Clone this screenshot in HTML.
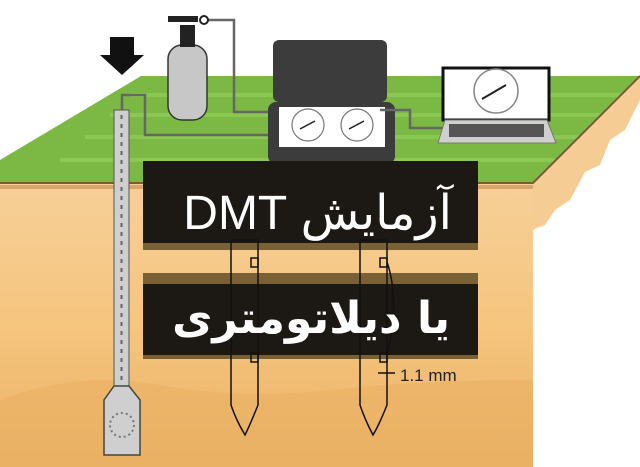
<!DOCTYPE html>
<html><head><meta charset="utf-8"><style>
html,body{margin:0;padding:0;background:#fff;}
svg{display:block}
</style></head><body>
<svg width="640" height="467" viewBox="0 0 640 467" xmlns="http://www.w3.org/2000/svg">
<defs>
<linearGradient id="soil" x1="0" y1="0" x2="0" y2="1">
<stop offset="0" stop-color="#f6cf98"/><stop offset="0.5" stop-color="#f6c57e"/><stop offset="1" stop-color="#eab066"/>
</linearGradient>
</defs>
<rect width="640" height="467" fill="#fff"/>
<rect x="0" y="183" width="533" height="284" fill="url(#soil)"/>
<path d="M0 400 Q80 370 160 385 T330 390 T533 380 L533 467 L0 467Z" fill="#e9b063" opacity="0.6"/>
<path d="M533 183 L640 76 L640 100 L625 130 L610 140 L600 165 L585 172 L570 200 L555 210 L545 225 L537 228 L533 230Z" fill="#f5cc93"/>
<path d="M141 76 L640 76 L533 183 L0 183 L0 160Z" fill="#7cb944"/>
<g stroke="#8fcb55" stroke-width="4" opacity="0.8">
<line x1="130" y1="95" x2="620" y2="95"/><line x1="110" y1="115" x2="600" y2="115"/><line x1="85" y1="137" x2="580" y2="137"/><line x1="60" y1="160" x2="555" y2="160"/>
</g>
<path d="M0 183 L533 183 L640 76" fill="none" stroke="#7a5a3a" stroke-width="2"/>
<rect x="0" y="185" width="533" height="4" fill="#d8a56a"/>
<path d="M110 37 L134 37 L134 55 L144 55 L122 75 L100 55 L110 55Z" fill="#111"/>
<path d="M122 110 L122 95 L145 95 L145 135 L272 135" fill="none" stroke="#666" stroke-width="2.5"/>
<path d="M205 20 L234 20 L234 112 L280 112" fill="none" stroke="#666" stroke-width="2.5"/>
<rect x="168" y="45" width="39" height="75" rx="14" fill="#c7c7c7" stroke="#333" stroke-width="1.5"/>
<rect x="180" y="25" width="15" height="22" fill="#222"/>
<rect x="168" y="16" width="30" height="6" fill="#222"/>
<circle cx="204" cy="20" r="4" fill="#fff" stroke="#222" stroke-width="2"/>
<rect x="273" y="40" width="114" height="62" rx="6" fill="#3c3c3c"/>
<rect x="268" y="102" width="127" height="62" rx="8" fill="#3c3c3c"/>
<rect x="279" y="107" width="106" height="40" fill="#fff"/>
<g fill="#fff" stroke="#777" stroke-width="1.2">
<circle cx="308" cy="125" r="16"/><circle cx="357" cy="125" r="16"/>
</g>
<line x1="300" y1="129" x2="315" y2="121" stroke="#222" stroke-width="1.5"/>
<line x1="349" y1="129" x2="364" y2="121" stroke="#222" stroke-width="1.5"/>
<path d="M380 110 L410 110 L410 128 L443 128" fill="none" stroke="#666" stroke-width="2.5"/>
<rect x="443" y="68" width="106" height="52" fill="#fff" stroke="#111" stroke-width="3"/>
<circle cx="496" cy="91" r="22" fill="#fff" stroke="#888" stroke-width="1.5"/>
<line x1="482" y1="99" x2="506" y2="85" stroke="#222" stroke-width="2"/>
<path d="M445 120 L547 120 L556 143 L438 143Z" fill="#cfcfcf" stroke="#777"/>
<rect x="449" y="124" width="95" height="13" fill="#555"/>
<rect x="114" y="110" width="15" height="278" fill="#cfcfcf" stroke="#555" stroke-width="1"/>
<line x1="121.5" y1="115" x2="121.5" y2="385" stroke="#666" stroke-width="2" stroke-dasharray="4 5"/>
<path d="M114 386 L129 386 L140 400 L140 455 L104 455 L104 400Z" fill="#cfcfcf" stroke="#444" stroke-width="1.5"/>
<circle cx="122" cy="425" r="12" fill="none" stroke="#777" stroke-width="2" stroke-dasharray="2 3"/>
<rect x="143" y="161" width="335" height="82" fill="#1c1915"/>
<rect x="143" y="243" width="335" height="7" fill="#7a6035"/>
<rect x="143" y="273" width="335" height="11" fill="#7a6035"/>
<rect x="143" y="284" width="335" height="71" fill="#1c1915"/>
<rect x="143" y="355" width="335" height="4" fill="#7a6035"/>
<g fill="none" stroke="#111" stroke-width="1.5">
<path d="M231 240 L258 240 L258 405 Q250 425 245 435 Q236 420 231 405Z"/>
<path d="M360 240 L387 240 L387 405 Q379 425 373 435 Q365 420 360 405Z"/>
<path d="M387 262 Q400 300 387 355"/>
<line x1="378" y1="373" x2="395" y2="373"/>
<rect x="251" y="258" width="7" height="9"/><rect x="251" y="353" width="7" height="9"/>
<rect x="380" y="258" width="7" height="9"/><rect x="380" y="353" width="7" height="9"/>
</g>
<text x="400" y="381" font-family="Liberation Sans, sans-serif" font-size="17" fill="#222">1.1 mm</text>
<text x="452" y="229" direction="rtl" text-anchor="start" font-family="Liberation Sans, 'DejaVu Sans', sans-serif" font-size="48" fill="#fff">آزمایش DMT</text>
<text x="450" y="333" direction="rtl" text-anchor="start" font-family="'DejaVu Sans', sans-serif" font-size="44" font-weight="bold" fill="#fff">یا دیلاتومتری</text>
</svg>
</body></html>
